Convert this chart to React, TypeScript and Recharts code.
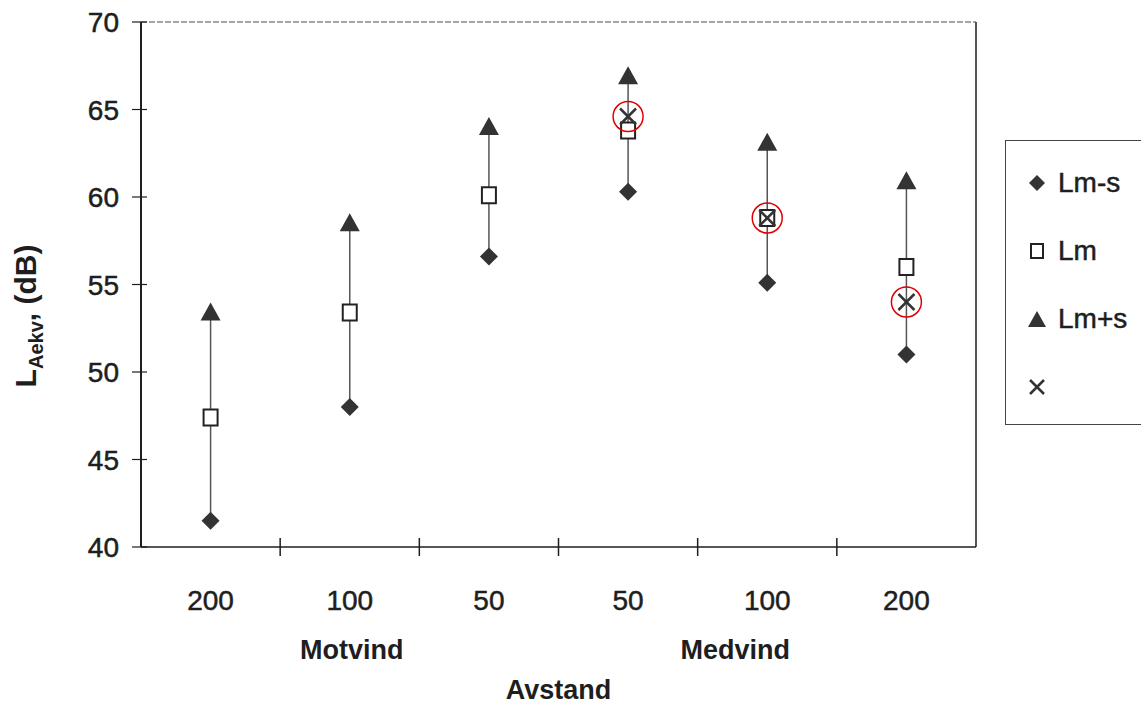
import React from "react";
import {
  ComposedChart,
  Scatter,
  ErrorBar,
  XAxis,
  YAxis,
  ReferenceLine,
  Legend,
} from "recharts";

const categories = ["200", "100", "50", "50", "100", "200"];
const lmMinusS = [41.5, 48.0, 56.6, 60.3, 55.1, 51.0];
const lm = [47.4, 53.4, 60.1, 63.8, 58.8, 56.0];
const lmPlusS = [53.4, 58.5, 64.0, 66.9, 63.1, 60.9];
const crossMarks = [null, null, null, 64.6, 58.8, 54.0];
const yTicks = [40, 45, 50, 55, 60, 65, 70];
const groups = [
  { label: "Motvind", at: 1 },
  { label: "Medvind", at: 4 },
];

const W = 1141;
const H = 704;
const M = { top: 22, right: 165, bottom: 7, left: 0 };
const Y_AXIS_W = 141;
const X_AXIS_H = 150;
const PLOT_LEFT = M.left + Y_AXIS_W;
const PLOT_W = W - PLOT_LEFT - M.right;
const PLOT_BOTTOM = H - M.bottom - X_AXIS_H;
const STEP = PLOT_W / categories.length;

const FONT = "'Liberation Sans', Arial, sans-serif";
const INK = "#1e1e1e";

const lowData = lmMinusS.map((v, i) => ({ x: i, y: v, range: [0, lmPlusS[i] - v] }));
const midData = lm.map((v, i) => ({ x: i, y: v }));
const highData = lmPlusS.map((v, i) => ({ x: i, y: v }));
const crossData = crossMarks
  .map((v, i) => ({ x: i, y: v }))
  .filter((d) => d.y !== null);

const Diamond = ({ cx, cy }: any) => (
  <polygon
    points={`${cx},${cy - 9} ${cx + 9},${cy} ${cx},${cy + 9} ${cx - 9},${cy}`}
    fill="#333"
  />
);

const Square = ({ cx, cy }: any) => (
  <rect x={cx - 7} y={cy - 8} width={14} height={16} fill="#fff" stroke="#222" strokeWidth={2} />
);

const Triangle = ({ cx, cy }: any) => (
  <polygon
    points={`${cx},${cy - 10} ${cx + 10},${cy + 8} ${cx - 10},${cy + 8}`}
    fill="#333"
  />
);

const Cross = ({ cx, cy }: any) => (
  <g>
    <line x1={cx - 8} y1={cy - 8} x2={cx + 8} y2={cy + 8} stroke="#333" strokeWidth={2.5} />
    <line x1={cx - 8} y1={cy + 8} x2={cx + 8} y2={cy - 8} stroke="#333" strokeWidth={2.5} />
    <circle cx={cx} cy={cy} r={15} fill="none" stroke="#e00000" strokeWidth={1.5} />
  </g>
);

const XTick = ({ x, payload }: any) => {
  const i = payload.value as number;
  const group = groups.find((g) => g.at === i);
  return (
    <g>
      {i > 0 && (
        <line
          x1={x - STEP / 2}
          x2={x - STEP / 2}
          y1={PLOT_BOTTOM - 9}
          y2={PLOT_BOTTOM + 9}
          stroke={INK}
          strokeWidth={1.5}
        />
      )}
      <text
        x={x}
        y={PLOT_BOTTOM + 63}
        textAnchor="middle"
        fontSize={28}
        fill={INK}
        stroke={INK}
        strokeWidth={0.5}
        fontFamily={FONT}
      >
        {categories[i]}
      </text>
      {group && (
        <text
          x={x + (i === 4 ? -32 : 2)}
          y={PLOT_BOTTOM + 112}
          textAnchor="middle"
          fontSize={27}
          fontWeight="bold"
          fill={INK}
          fontFamily={FONT}
        >
          {group.label}
        </text>
      )}
    </g>
  );
};

const YTick = ({ y, payload }: any) => (
  <g>
    <line x1={PLOT_LEFT - 9} x2={PLOT_LEFT + 6} y1={y} y2={y} stroke={INK} strokeWidth={1.2} />
    <text
      x={PLOT_LEFT - 22}
      y={y}
      dy="0.36em"
      textAnchor="end"
      fontSize={28}
      fill={INK}
      stroke={INK}
      strokeWidth={0.5}
      fontFamily={FONT}
    >
      {payload.value}
    </text>
  </g>
);

const YLabel = () => (
  <text
    x={36}
    y={316}
    transform="rotate(-90, 36, 316)"
    textAnchor="middle"
    fontSize={30}
    fontWeight="bold"
    fill={INK}
    fontFamily={FONT}
  >
    L
    <tspan fontSize={20} dy={7}>
      Aekv
    </tspan>
    <tspan dy={-7}>, (dB)</tspan>
  </text>
);

const legendItems = [
  { label: "Lm-s", icon: "diamond" },
  { label: "Lm", icon: "square" },
  { label: "Lm+s", icon: "triangle" },
  { label: "", icon: "cross" },
];

const LegendIcon = ({ kind }: { kind: string }) => (
  <svg width={22} height={22}>
    {kind === "diamond" && <polygon points="11,3 19,11 11,19 3,11" fill="#333" />}
    {kind === "square" && <rect x={5} y={4} width={12} height={14} fill="#fff" stroke="#222" strokeWidth={2} />}
    {kind === "triangle" && <polygon points="11,3 20,19 2,19" fill="#333" />}
    {kind === "cross" && (
      <g stroke="#333" strokeWidth={2.5}>
        <line x1={4} y1={4} x2={18} y2={18} />
        <line x1={4} y1={18} x2={18} y2={4} />
      </g>
    )}
  </svg>
);

const LegendBox = () => (
  <div
    style={{
      width: 170,
      height: 285,
      border: "1.5px solid #444",
      background: "#fff",
      boxSizing: "border-box",
      paddingTop: 8,
      fontFamily: FONT,
      color: INK,
    }}
  >
    {legendItems.map((it) => (
      <div key={it.icon} style={{ height: 68, display: "flex", alignItems: "center", paddingLeft: 20 }}>
        <LegendIcon kind={it.icon} />
        <span style={{ fontSize: 28, marginLeft: 10, WebkitTextStroke: "0.5px #1e1e1e" }}>{it.label}</span>
      </div>
    ))}
  </div>
);

export default function App() {
  return (
    <div style={{ position: "absolute", left: 0, top: 0, width: W, height: H, overflow: "hidden", background: "#fff" }}>
      <ComposedChart width={W} height={H} margin={M}>
        <XAxis
          type="number"
          dataKey="x"
          domain={[-0.5, 5.5]}
          ticks={[0, 1, 2, 3, 4, 5]}
          interval={0}
          height={X_AXIS_H}
          tick={<XTick />}
          tickLine={false}
          axisLine={{ stroke: INK, strokeWidth: 1.5 }}
          label={{
            value: "Avstand",
            position: "insideBottom",
            offset: -2,
            fontSize: 27,
            fontWeight: "bold",
            fill: INK,
            fontFamily: FONT,
          }}
        />
        <YAxis
          type="number"
          dataKey="y"
          domain={[40, 70]}
          ticks={yTicks}
          interval={0}
          width={Y_AXIS_W}
          allowDataOverflow
          tick={<YTick />}
          tickLine={false}
          axisLine={{ stroke: INK, strokeWidth: 2 }}
          label={<YLabel />}
        />
        <ReferenceLine y={70} stroke="#888" strokeWidth={1.5} strokeDasharray="6 2" />
        <ReferenceLine x={5.5} stroke="#555" strokeWidth={2} />
        <Scatter name="Lm-s" data={lowData} shape={<Diamond />} isAnimationActive={false}>
          <ErrorBar dataKey="range" direction="y" width={0} stroke="#555" strokeWidth={1.5} />
        </Scatter>
        <Scatter name="Lm" data={midData} shape={<Square />} isAnimationActive={false} />
        <Scatter name="Lm+s" data={highData} shape={<Triangle />} isAnimationActive={false} />
        <Scatter name="x" data={crossData} shape={<Cross />} isAnimationActive={false} />
        <Legend
          layout="horizontal"
          verticalAlign="middle"
          align="center"
          content={<LegendBox />}
          wrapperStyle={{ left: 1005, top: 140, width: 170 }}
        />
      </ComposedChart>
    </div>
  );
}
